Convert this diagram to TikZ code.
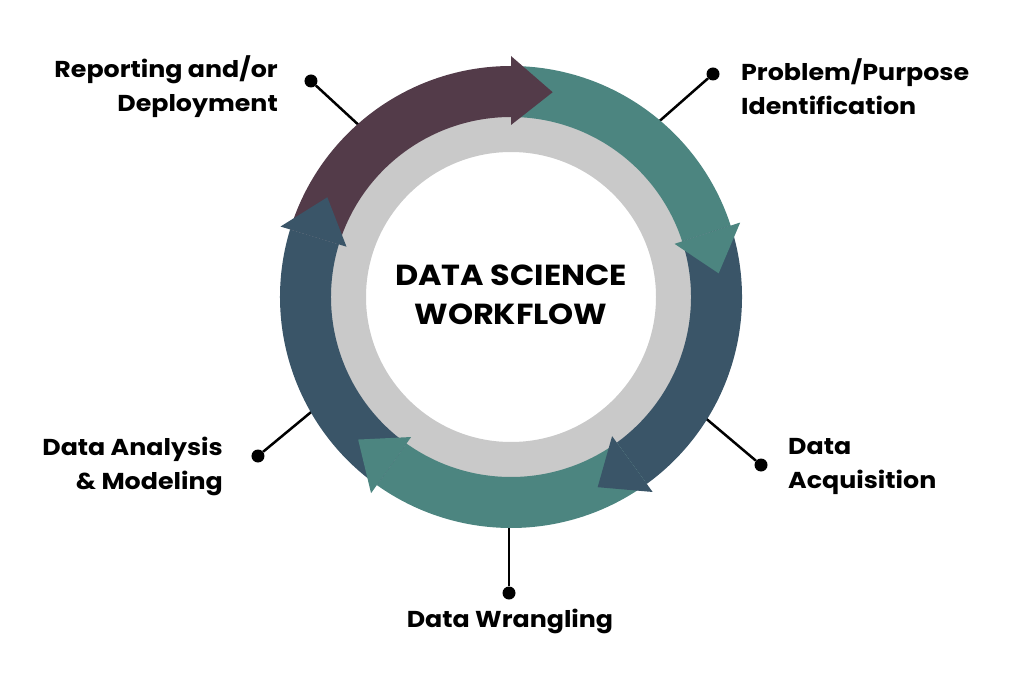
\documentclass[tikz,border=0pt]{standalone}
\usepackage{fontspec}
\setmainfont{Poppins}[FakeStretch=1.1]
\usepackage{tikz}
\usetikzlibrary{positioning}
\definecolor{wfplum}{HTML}{533B49}
\definecolor{wfteal}{HTML}{4C8580}
\definecolor{wfblue}{HTML}{3A5568}
\definecolor{wfgray}{HTML}{C9C9C9}
\tikzset{
  stagelabel/.style={font=\fontsize{23}{34}\selectfont\bfseries, text=black, inner sep=0pt},
  titlelabel/.style={font=\fontsize{29}{39}\selectfont\bfseries, text=black, inner sep=0pt, align=center},
  pindot/.style={circle, fill=black, minimum size=13pt, inner sep=0pt},
  pinline/.style={line width=2.5pt},
}

\begin{document}
\begin{tikzpicture}[x=1pt,y=1pt]
	\useasboundingbox (-511,-380) rectangle (513,297);
	\node[pindot] (reportdot) at (-200,216) {};
	\node[pindot] (problemdot) at (202,223) {};
	\node[pindot] (acquiredot) at (250,-168) {};
	\node[pindot] (wrangledot) at (-2,-296) {};
	\node[pindot] (analysedot) at (-253,-159) {};
	\coordinate (reportring) at (-148,168);
	\coordinate (problemring) at (144,172);
	\coordinate (acquirering) at (192,-119);
	\coordinate (wranglering) at (-2,-225);
	\coordinate (analysering) at (-195,-111);
	\draw[pinline] (reportdot) -- (reportring);
	\draw[pinline] (problemdot) -- (problemring);
	\draw[pinline] (acquiredot) -- (acquirering);
	\draw[pinline] (wrangledot) -- (wranglering);
	\draw[pinline] (analysedot) -- (analysering);
	\fill[wfgray, even odd rule] (0,0) circle[radius=181] (0,0) circle[radius=145];
	\fill[wfplum] (163:231) arc[start angle=163, end angle=90, radius=231] -- (90:180) arc[start angle=90, end angle=163, radius=180] -- cycle;
	\fill[wfteal] (90:231) arc[start angle=90, end angle=18, radius=231] -- (18:180) arc[start angle=18, end angle=90, radius=180] -- cycle;
	\fill[wfblue] (18:231) arc[start angle=18, end angle=-54, radius=231] -- (-54:180) arc[start angle=-54, end angle=18, radius=180] -- cycle;
	\fill[wfteal] (-54:231) arc[start angle=-54, end angle=-125.5, radius=231] -- (-125.5:180) arc[start angle=-125.5, end angle=-54, radius=180] -- cycle;
	\fill[wfblue] (-125.5:231) arc[start angle=-125.5, end angle=-197, radius=231] -- (-197:180) arc[start angle=-197, end angle=-125.5, radius=180] -- cycle;
	\fill[wfplum] (90:241) -- (78.5:209) -- (90:172) -- cycle;
	\fill[wfteal] (18:241) -- (6.5:209) -- (18:172) -- cycle;
	\fill[wfblue] (-54:241) -- (-65.5:209) -- (-54:172) -- cycle;
	\fill[wfteal] (-125.5:241) -- (-137:209) -- (-125.5:172) -- cycle;
	\fill[wfblue] (-197:241) -- (-208.5:209) -- (-197:172) -- cycle;
	\node[titlelabel] (title) at (0,2) {DATA SCIENCE\\WORKFLOW};
	\node[stagelabel, anchor=east, align=right] (report) at (-233,210) {Reporting and/or\\Deployment};
	\node[stagelabel, anchor=west, align=left] (problem) at (230,210) {Problem/Purpose\\Identification};
	\node[stagelabel, anchor=west, align=left] (acquire) at (277,-169) {Data\\Acquisition};
	\node[stagelabel, anchor=base] (wrangle) at (-1,-330) {Data Wrangling};
	\node[stagelabel, anchor=east, align=right] (analyse) at (-288,-169) {Data Analysis\\\& Modeling};
\end{tikzpicture}
\end{document}
